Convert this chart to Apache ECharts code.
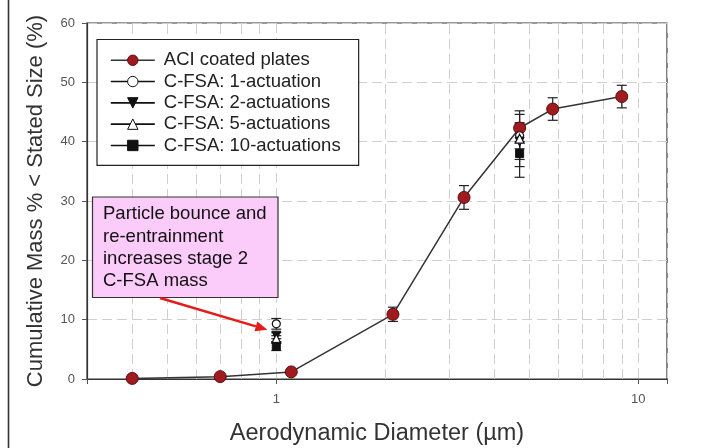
<!DOCTYPE html>
<html><head><meta charset="utf-8">
<script src="https://cdn.jsdelivr.net/npm/echarts@6/dist/echarts.min.js"></script>
<style>html,body{margin:0;padding:0;background:#fff}#c{width:714px;height:448px}</style>
</head><body><div id="c"></div>
<script>
// ---- data ----
const aciX = [0.4, 0.7, 1.1, 2.1, 3.3, 4.7, 5.8, 9.0];
const aciY = [0.1, 0.4, 1.2, 10.9, 30.6, 42.3, 45.5, 47.6];
const aciErr = [0, 0, 0, 1.2, 2.0, 2.3, 1.9, 1.9];
const cfsaX = [1.0, 4.7];
const cfsa1Y = [9.3, 41.0];  const cfsa1Err = [0.9, 2.2];
const cfsa2Y = [7.3, 40.0];  const cfsa2Err = [0.5, 3.0];
const cfsa5Y = [6.8, 40.5];  const cfsa5Err = [0.5, 4.7];
const cfsa10Y = [5.5, 38.0]; const cfsa10Err = [0.7, 4.0];
const seriesNames = ['ACI coated plates', 'C-FSA: 1-actuation', 'C-FSA: 2-actuations', 'C-FSA: 5-actuations', 'C-FSA: 10-actuations'];
const xTickLabels = [1, 10];
const xMinorGrid = [0.4, 0.5, 0.6, 0.7, 0.8, 0.9, 2, 3, 4, 5, 6, 7, 8, 9];
const annotationLines = ['Particle bounce and', 're-entrainment', 'increases stage 2', 'C-FSA mass'];

const FONT = 'Liberation Sans, Arial, sans-serif';
const pairs = (xs, ys) => xs.map((x, i) => [x, ys[i]]);
const broken = (xs, ys) => { const out = []; xs.forEach((x, i) => { if (i > 0) out.push(['-', '-']); out.push([x, ys[i]]); }); return out; };
const errData = (xs, ys, es) => xs.map((x, i) => [x, ys[i], es[i]]);

function errRender(params, api) {
  const x = api.value(0), y = api.value(1), e = api.value(2);
  if (!e) return null;
  const p1 = api.coord([x, y + e]), p2 = api.coord([x, y - e]);
  const w = 5;
  const st = { stroke: '#222', lineWidth: 1.2 };
  return { type: 'group', children: [
    { type: 'line', shape: { x1: p1[0], y1: p1[1], x2: p2[0], y2: p2[1] }, style: st },
    { type: 'line', shape: { x1: p1[0] - w, y1: p1[1], x2: p1[0] + w, y2: p1[1] }, style: st },
    { type: 'line', shape: { x1: p2[0] - w, y1: p2[1], x2: p2[0] + w, y2: p2[1] }, style: st }
  ]};
}
function errSeries(name, xs, ys, es) {
  return { type: 'custom', name: name, renderItem: errRender, data: errData(xs, ys, es),
    encode: { x: 0, y: 1 }, z: 3, silent: true };
}
const downTri = 'path://M0,0 L10,0 L5,9 Z';
const upTri = 'path://M5,0 L10,9 L0,9 Z';

const chart = echarts.init(document.getElementById('c'), null, { renderer: 'canvas' });
const option = {
  backgroundColor: '#fff',
  animation: false,
  textStyle: { fontFamily: FONT },
  grid: { left: 87, right: 47, top: 23, bottom: 69, show: true, borderColor: '#333', borderWidth: 1.2,
    backgroundColor: 'transparent', containLabel: false, outerBoundsMode: 'none' },
  xAxis: {
    type: 'log', logBase: 10, min: 0.3, max: 12,
    name: 'Aerodynamic Diameter (µm)', nameLocation: 'middle', nameGap: 43,
    nameTextStyle: { fontSize: 23.5, color: '#333', fontFamily: FONT },
    axisLine: { lineStyle: { color: '#333', width: 1.2 } },
    axisTick: { show: true, length: 5, lineStyle: { color: '#555' } },
    axisLabel: { fontSize: 13, color: '#555', margin: 14, fontFamily: FONT,
      formatter: v => xTickLabels.some(t => Math.abs(t - v) < 1e-6 * t) ? String(Math.round(v)) : '' },
    splitLine: { show: true, lineStyle: { color: '#cfcfcf', type: [10, 5], width: 1 } },
    minorTick: { show: false }
  },
  yAxis: {
    type: 'value', min: 0, max: 60, interval: 10,
    name: 'Cumulative Mass % < Stated Size (%)', nameLocation: 'middle', nameGap: 40,
    nameTextStyle: { fontSize: 22, color: '#333', fontFamily: FONT },
    axisLine: { show: true, lineStyle: { color: '#333', width: 1.2 } },
    axisTick: { show: true, length: 5, lineStyle: { color: '#555' } },
    axisLabel: { fontSize: 13, color: '#555', margin: 12, fontFamily: FONT },
    splitLine: { show: true, lineStyle: { color: '#cfcfcf', type: [10, 5], width: 1 } }
  },
  legend: {
    orient: 'vertical', left: 97, top: 39.5, align: 'left', z: 10,
    data: seriesNames,
    backgroundColor: '#fff', borderColor: '#222', borderWidth: 1.2, borderRadius: 0,
    padding: [11.25, 18, 10.5, 13],
    itemWidth: 44, itemHeight: 13, itemGap: 2.3,
    itemStyle: { borderWidth: 1 },
    lineStyle: { width: 1.6 },
    textStyle: { fontSize: 18.5, color: '#222', fontFamily: FONT, padding: [0, 0, 0, 4] },
    selectedMode: false
  },
  series: [
    { type: 'line', name: 'grid-minor', data: [], z: 1, silent: true,
      markLine: { z: 1, silent: true, symbol: ['none', 'none'], label: { show: false },
        lineStyle: { color: '#cfcfcf', type: [10, 5], width: 1 },
        emphasis: { disabled: true },
        data: xMinorGrid.map(v => ({ xAxis: v })) } },
    errSeries('err-aci', aciX, aciY, aciErr),
    errSeries('err-1', cfsaX, cfsa1Y, cfsa1Err),
    errSeries('err-2', cfsaX, cfsa2Y, cfsa2Err),
    errSeries('err-5', cfsaX, cfsa5Y, cfsa5Err),
    errSeries('err-10', cfsaX, cfsa10Y, cfsa10Err),
    { type: 'line', name: seriesNames[0], data: pairs(aciX, aciY), z: 5,
      symbol: 'circle', symbolSize: 12, showAllSymbol: true,
      lineStyle: { color: '#333', width: 1.5 },
      itemStyle: { color: '#a01b1e', borderColor: '#5a0c0e', borderWidth: 1 } },
    { type: 'line', name: seriesNames[1], data: broken(cfsaX, cfsa1Y), z: 6, connectNulls: false,
      symbol: 'circle', symbolSize: 8, lineStyle: { color: '#111', width: 1.5 },
      itemStyle: { color: '#fff', borderColor: '#111', borderWidth: 1.2 } },
    { type: 'line', name: seriesNames[2], data: broken(cfsaX, cfsa2Y), z: 6, connectNulls: false,
      symbol: downTri, symbolSize: 9, lineStyle: { color: '#111', width: 1.5 },
      itemStyle: { color: '#111', borderColor: '#111', borderWidth: 1 } },
    { type: 'line', name: seriesNames[3], data: broken(cfsaX, cfsa5Y), z: 6, connectNulls: false,
      symbol: upTri, symbolSize: 9, lineStyle: { color: '#111', width: 1.5 },
      itemStyle: { color: '#fff', borderColor: '#111', borderWidth: 1.2 } },
    { type: 'line', name: seriesNames[4], data: broken(cfsaX, cfsa10Y), z: 6, connectNulls: false,
      symbol: 'rect', symbolSize: 8, lineStyle: { color: '#111', width: 1.5 },
      itemStyle: { color: '#111', borderColor: '#111', borderWidth: 1 } }
  ]
};
chart.setOption(option);

// annotation (callout box + arrow pointing at the stage-2 C-FSA points)
const tip = chart.convertToPixel({ gridIndex: 0 }, [0.945, 8.3]);
const start = [160, 298];
const ang = Math.atan2(tip[1] - start[1], tip[0] - start[0]);
const hl = 12, hw = 5;
const base = [tip[0] - hl * Math.cos(ang), tip[1] - hl * Math.sin(ang)];
const head = [tip,
  [base[0] + hw * Math.sin(ang), base[1] - hw * Math.cos(ang)],
  [base[0] - hw * Math.sin(ang), base[1] + hw * Math.cos(ang)]];
chart.setOption({
  graphic: [
    { type: 'line', z: 100, shape: { x1: 8.5, y1: 0, x2: 8.5, y2: 448 }, style: { stroke: '#333', lineWidth: 1.6 } },
    { type: 'rect', z: 100, shape: { x: 92.5, y: 197, width: 185.5, height: 100.5 },
      style: { fill: '#fbcbf9', stroke: '#333', lineWidth: 1.2 } },
    { type: 'text', z: 101, left: 103, top: 203,
      style: { text: annotationLines.join('\n'), font: '18.5px ' + FONT, fill: '#111', lineHeight: 22.3 } },
    { type: 'line', z: 101, shape: { x1: start[0], y1: start[1], x2: base[0], y2: base[1] },
      style: { stroke: '#e41b1b', lineWidth: 2.5 } },
    { type: 'polygon', z: 101, shape: { points: head }, style: { fill: '#e41b1b' } }
  ]
});
</script>
</body></html>
